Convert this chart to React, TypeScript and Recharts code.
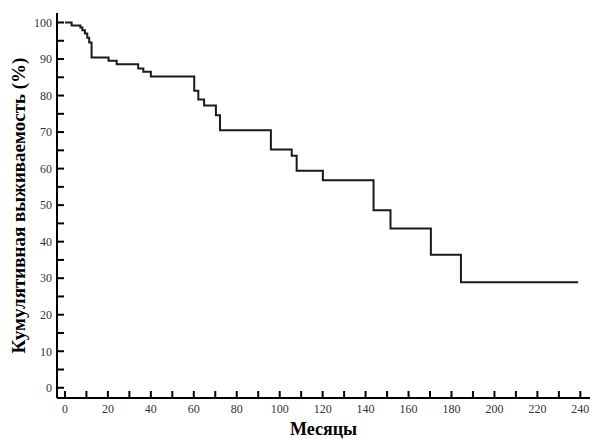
import { LineChart, Line, XAxis, YAxis, Label } from "recharts";

// Kaplan-Meier steps
const months = [
  0, 3.1, 7.2, 8.1, 9.3, 10.4, 11.3, 12.4, 20.3, 24.1, 34.1, 36.5, 40.0,
  60.2, 62.1, 64.8, 70.3, 72.2, 95.9, 105.6, 107.9, 120.1, 143.7, 151.6,
  170.4, 184.4, 239,
];
const survival = [
  100, 99.2, 98.6, 97.9, 97.0, 95.8, 94.5, 90.4, 89.5, 88.6, 87.4, 86.5, 85.2,
  81.3, 78.9, 77.3, 74.6, 70.5, 65.2, 63.5, 59.4, 56.8, 48.6, 43.6, 36.4,
  28.9, 28.9,
];

const xTicks = Array.from({ length: 25 }, (_, i) => i * 10);
const yTicks = Array.from({ length: 21 }, (_, i) => i * 5);

const data = months.map((m, i) => ({ month: m, rate: survival[i] }));

const FONT = "Liberation Serif";

const XTick = (props: any) => {
  const { x, y, payload } = props;
  if (payload.value % 20 !== 0) return <g />;
  return (
    <text x={x} y={y} dy="0.71em" textAnchor="middle" fontFamily={FONT} fontSize={12} fill="#333">
      {payload.value}
    </text>
  );
};

const YTick = (props: any) => {
  const { x, y, payload } = props;
  if (payload.value % 10 !== 0) return <g />;
  return (
    <text x={x} y={y} dy="0.355em" textAnchor="end" fontFamily={FONT} fontSize={12} fill="#333">
      {payload.value}
    </text>
  );
};

export default function App() {
  return (
    <div style={{ position: "absolute", left: 0, top: 0, background: "#fff" }}>
      <LineChart
        width={590}
        height={439}
        data={data}
        margin={{ top: 13, right: 0, bottom: 0, left: 0 }}
      >
        <XAxis
          dataKey="month"
          type="number"
          domain={[-3.7, 244.5]}
          ticks={xTicks}
          interval={0}
          allowDataOverflow
          height={41}
          tickSize={-7}
          tickMargin={13}
          tick={<XTick />}
          axisLine={{ stroke: "#000", strokeWidth: 2 }}
          tickLine={{ stroke: "#000", strokeWidth: 2 }}
        >
          <Label
            value="Месяцы"
            position="insideBottom"
            offset={4}
            fontFamily={FONT}
            fontWeight="bold"
            fontSize={18}
            fill="#000"
          />
        </XAxis>
        <YAxis
          type="number"
          domain={[-2.8, 102.6]}
          ticks={yTicks}
          interval={0}
          allowDataOverflow
          width={57}
          tickSize={-7}
          tickMargin={12}
          tick={<YTick />}
          axisLine={{ stroke: "#000", strokeWidth: 2 }}
          tickLine={{ stroke: "#000", strokeWidth: 2 }}
        >
          <Label
            value="Кумулятивная выживаемость (%)"
            angle={-90}
            position="insideLeft"
            offset={18}
            fontFamily={FONT}
            fontWeight="bold"
            fontSize={19}
            fill="#000"
            style={{ textAnchor: "middle" }}
          />
        </YAxis>
        <Line
          type="stepAfter"
          dataKey="rate"
          stroke="#1a1a1a"
          strokeWidth={2}
          dot={false}
          isAnimationActive={false}
        />
      </LineChart>
    </div>
  );
}
